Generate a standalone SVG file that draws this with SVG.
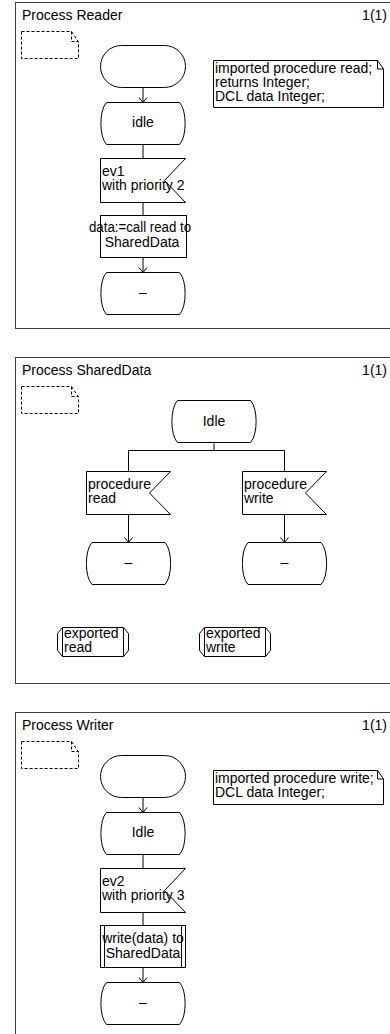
<svg xmlns="http://www.w3.org/2000/svg" width="390" height="1034" viewBox="0 0 390 1034">
  <style>
    text { font-family: "Liberation Sans", Arial, sans-serif; font-size: 14px; fill: #000; }
    .c { text-anchor: middle; }
    .r { text-anchor: end; }
    .frame { fill: none; stroke: #404040; stroke-width: 1; }
    .shape { fill: #fff; stroke: #000; stroke-width: 1; }
    .line { fill: none; stroke: #000; stroke-width: 1; }
    .dash { fill: none; stroke: #000; stroke-width: 1; stroke-dasharray: 3 2; }
    .flow { fill: none; stroke: #000; stroke-width: 1; }
    .arrow { marker-end: url(#arr); }
  </style>
  <defs>
    <marker id="arr" viewBox="-6 -5 7 10" markerUnits="userSpaceOnUse" markerWidth="7" markerHeight="10" refX="0" refY="0" orient="auto">
      <path d="M-5,-4 L0,0 L-5,4" fill="none" stroke="#000" stroke-width="1"/>
    </marker>
    <!-- state / nextstate symbol, 85 x 42, origin at top-left -->
    <path id="state" d="M6 0 H79 C86.5 7.5 86.5 34.5 79 42 H6 C-1.5 34.5 -1.5 7.5 6 0 Z"/>
    <!-- dashed text extension in the upper left of each page -->
    <g id="pagenote">
      <path class="dash" d="M21.5 31.5 H71.5 L78.5 42 V58.5 H21.5 Z"/>
      <path class="dash" d="M71.5 31.5 V41.5 H78.5"/>
    </g>
  </defs>

  <!-- ===================== Process Reader ===================== -->
  <g id="page-reader">
    <rect class="frame" x="15.5" y="2.5" width="390" height="326"/>
    <text x="22" y="20">Process Reader</text>
    <text class="r" x="387" y="20">1(1)</text>
    <use href="#pagenote"/>
  </g>

  <g id="reader-connectors">
    <path class="flow arrow" d="M143 87.5 V102.5"/>
    <path class="flow" d="M143 144.5 V158.5"/>
    <path class="flow" d="M143 202.5 V215.5"/>
    <path class="flow arrow" d="M143 257.5 V272.5"/>
  </g>

  <g id="reader-start">
    <rect class="shape" x="100.5" y="45.5" width="85" height="42" rx="21" ry="21"/>
  </g>
  <g id="reader-idle">
    <use href="#state" x="100.5" y="102.5" class="shape"/>
    <text class="c" x="143" y="126.5">idle</text>
  </g>
  <g id="reader-ev1">
    <path class="shape" d="M100.5 158.5 H185.5 L164.5 180.5 L185.5 202.5 H100.5 Z"/>
    <text x="102" y="176">ev1</text>
    <text x="102" y="190">with priority 2</text>
  </g>
  <g id="reader-task">
    <rect class="shape" x="100.5" y="215.5" width="86" height="42"/>
    <text class="c" x="140" y="232" textLength="102" lengthAdjust="spacingAndGlyphs">data:=call read to</text>
    <text class="c" x="142" y="246.5">SharedData</text>
  </g>
  <g id="reader-end">
    <use href="#state" x="100.5" y="272.5" class="shape"/>
    <text class="c" x="143" y="297">–</text>
  </g>
  <g id="reader-decl">
    <path class="shape" d="M213.5 60.5 H377.5 L383.5 69 V107.5 H213.5 Z"/>
    <path class="line" d="M377.5 60.5 V69 H383.5"/>
    <text x="215" y="72.5">imported procedure read;</text>
    <text x="215" y="86.5">returns Integer;</text>
    <text x="215" y="100.5">DCL data Integer;</text>
  </g>

  <!-- ===================== Process SharedData ===================== -->
  <g id="page-shareddata">
    <rect class="frame" x="15.5" y="357.5" width="390" height="326"/>
    <text x="22" y="375">Process SharedData</text>
    <text class="r" x="387" y="375">1(1)</text>
    <use href="#pagenote" y="355"/>
  </g>

  <g id="shareddata-connectors">
    <path class="flow" d="M214 443.5 V450.5"/>
    <path class="flow" d="M128.5 471.5 V450.5 H284.5 V471.5"/>
    <path class="flow arrow" d="M128.5 514.5 V542.5"/>
    <path class="flow arrow" d="M284.5 514.5 V542.5"/>
  </g>

  <g id="shareddata-idle">
    <use href="#state" x="171.5" y="400.5" class="shape"/>
    <text class="c" x="214" y="425.5">Idle</text>
  </g>
  <g id="shareddata-read">
    <path class="shape" d="M86.5 471.5 H170.5 L149.5 493 L170.5 514.5 H86.5 Z"/>
    <text x="88" y="488.5">procedure</text>
    <text x="88" y="503">read</text>
  </g>
  <g id="shareddata-write">
    <path class="shape" d="M242.5 471.5 H326.5 L305.5 493 L326.5 514.5 H242.5 Z"/>
    <text x="244" y="488.5">procedure</text>
    <text x="244" y="503">write</text>
  </g>
  <g id="shareddata-end-read">
    <use href="#state" x="86" y="542.5" class="shape"/>
    <text class="c" x="128.5" y="567">–</text>
  </g>
  <g id="shareddata-end-write">
    <use href="#state" x="242" y="542.5" class="shape"/>
    <text class="c" x="284.5" y="567">–</text>
  </g>
  <g id="shareddata-exported-read">
    <path class="shape" d="M62.5 627.5 H123.5 L128.5 633.5 V650.5 L123.5 656.5 H62.5 L57.5 650.5 V633.5 Z"/>
    <path class="line" d="M62.5 627.5 V656.5 M123.5 627.5 V656.5"/>
    <text x="64" y="637.5">exported</text>
    <text x="64" y="652">read</text>
  </g>
  <g id="shareddata-exported-write">
    <path class="shape" d="M204.5 627.5 H265.5 L270.5 633.5 V650.5 L265.5 656.5 H204.5 L199.5 650.5 V633.5 Z"/>
    <path class="line" d="M204.5 627.5 V656.5 M265.5 627.5 V656.5"/>
    <text x="206" y="637.5">exported</text>
    <text x="206" y="652">write</text>
  </g>

  <!-- ===================== Process Writer ===================== -->
  <g id="page-writer">
    <rect class="frame" x="15.5" y="712.5" width="390" height="340"/>
    <text x="22" y="730">Process Writer</text>
    <text class="r" x="387" y="730">1(1)</text>
    <use href="#pagenote" y="710"/>
  </g>

  <g id="writer-connectors">
    <path class="flow arrow" d="M143 797.5 V812.5"/>
    <path class="flow" d="M143 854.5 V868.5"/>
    <path class="flow" d="M143 912.5 V925.5"/>
    <path class="flow arrow" d="M143 967.5 V982.5"/>
  </g>

  <g id="writer-start">
    <rect class="shape" x="100.5" y="755.5" width="85" height="42" rx="21" ry="21"/>
  </g>
  <g id="writer-idle">
    <use href="#state" x="100.5" y="812.5" class="shape"/>
    <text class="c" x="143" y="836.5">Idle</text>
  </g>
  <g id="writer-ev2">
    <path class="shape" d="M100.5 868.5 H185.5 L164.5 890.5 L185.5 912.5 H100.5 Z"/>
    <text x="102" y="886">ev2</text>
    <text x="102" y="900">with priority 3</text>
  </g>
  <g id="writer-call">
    <rect class="shape" x="100.5" y="925.5" width="85" height="42"/>
    <path class="line" d="M104.5 925.5 V967.5 M181.5 925.5 V967.5"/>
    <text class="c" x="143" y="943">write(data) to</text>
    <text class="c" x="143" y="957.5">SharedData</text>
  </g>
  <g id="writer-end">
    <use href="#state" x="100.5" y="982.5" class="shape"/>
    <text class="c" x="143" y="1007">–</text>
  </g>
  <g id="writer-decl">
    <path class="shape" d="M213.5 770.5 H377.5 L383.5 779 V804.5 H213.5 Z"/>
    <path class="line" d="M377.5 770.5 V779 H383.5"/>
    <text x="215" y="783">imported procedure write;</text>
    <text x="215" y="797">DCL data Integer;</text>
  </g>
</svg>
